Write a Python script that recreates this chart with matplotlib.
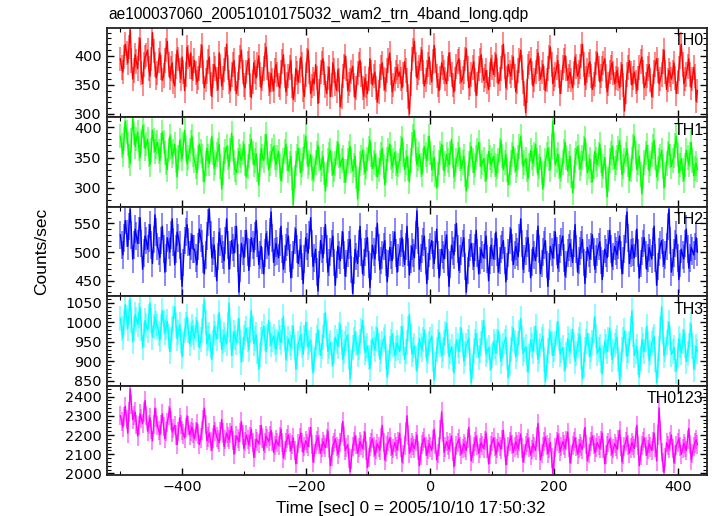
import numpy as np
import matplotlib
matplotlib.use("Agg")
import matplotlib.pyplot as plt
from matplotlib.ticker import MultipleLocator

plt.rcParams['font.family'] = ['Liberation Sans', 'DejaVu Sans']

title = "ae100037060_20051010175032_wam2_trn_4band_long.qdp"
xlabel = "Time [sec] 0 = 2005/10/10 17:50:32"
ylabel = "Counts/sec"
band_names = ["TH0", "TH1", "TH2", "TH3", "TH0123"]
t_first, t_last = -500.0, 431.0

th0 = [395, 380, 372, 398, 420, 405, 388, 415, 445, 392, 360, 375, 402, 390, 378, 412, 430, 370, 352, 385, 398, 402, 410, 378, 365, 395, 440, 408, 385, 362,
       370, 392, 405, 380, 358, 366, 392, 410, 425, 385, 362, 378, 388, 355, 348, 382, 410, 395, 375, 360, 398, 372, 340, 368, 415, 398, 382, 405, 360, 378,
       392, 370, 355, 362, 378, 400, 418, 372, 345, 358, 372, 390, 398, 352, 330, 365, 385, 378, 360, 342, 405, 382, 348, 362, 376, 395, 420, 380, 355, 340, 368, 385, 392, 360, 335, 352, 380, 398, 410, 372, 350, 345, 372, 388, 395, 350, 328, 355, 388, 372, 362, 385, 400, 368, 345, 360, 378, 402, 415, 380, 352, 338, 370, 358, 340, 375,
       385, 368, 350, 345, 372, 390, 402, 365, 338, 352, 365, 380, 392, 348, 325, 342, 378, 370, 355, 375, 398, 385, 342, 330, 368, 392, 410, 372, 335, 348, 360, 352, 385, 362, 318, 340, 372, 388, 395, 370, 348, 335, 362, 380, 330, 350, 388, 375, 352, 340, 376, 358, 312, 330, 365, 382, 400, 378, 340, 352, 358, 372, 382, 350, 328, 345, 370, 385, 392, 368, 345, 330, 362, 348, 335, 360, 395, 372, 350, 365, 372, 345, 320, 338, 365, 380, 388, 360, 342, 358, 375, 392, 405, 370, 338, 350, 360, 372, 380, 365,
       372, 360, 345, 368, 390, 375, 358, 330, 300, 352, 395, 410, 425, 385, 362, 370, 380, 395, 410, 372, 348, 358, 372, 385, 398, 370, 355, 390, 418, 392, 365, 350, 340, 362, 388, 380, 372, 360, 352, 378, 405, 385, 368, 350, 338, 360, 382, 390, 395, 372, 355, 362, 372, 395, 412, 378, 345, 352, 368, 380, 390, 358, 332, 352, 378, 392, 402, 375, 358, 365, 375, 355, 342, 368, 395, 380,
       368, 385, 402, 375, 352, 360, 378, 398, 420, 382, 345, 362, 385, 372, 365, 380, 398, 365, 338, 355, 375, 392, 410, 380, 355, 335, 302, 340, 382, 388, 395, 370, 348, 358, 372, 390, 405, 378, 360, 372, 385, 362, 340, 358, 378, 398, 415, 385, 352, 360, 368, 380, 392, 365, 335, 355, 380, 392, 400, 378, 358, 365, 372, 358, 345, 370, 398, 382, 365, 372, 382, 400, 420, 385, 350, 362, 375, 385, 390, 365, 342, 352, 368, 388, 405, 378, 355, 365, 378, 388, 395, 365, 338, 352, 372, 380, 388, 370, 352, 362,
       375, 360, 345, 368, 385, 350, 305, 338, 368, 380, 392, 370, 350, 362, 372, 355, 340, 362, 380, 390, 398, 372, 345, 352, 365, 378, 385, 358, 330, 348, 372, 385, 395, 375, 352, 360, 368, 390, 410, 372, 342, 358, 375, 368, 360, 372, 388, 362, 335, 355, 378, 398, 420, 385, 352, 360, 368, 382, 395, 368, 345, 360, 380, 365, 322, 340]

th1 = [385, 370, 355, 380, 410, 392, 372, 352, 340, 378, 415, 390, 368, 380, 392, 365, 350, 375, 402, 385, 365, 372, 380, 355, 338, 362, 395, 378, 360, 368,
       375, 360, 345, 370, 392, 375, 358, 342, 330, 362, 385, 368, 352, 360, 372, 345, 318, 350, 378, 362, 348, 372, 395, 365, 340, 350, 362, 375, 385, 355,
       345, 335, 325, 350, 372, 360, 352, 330, 310, 340, 365, 352, 340, 362, 385, 358, 332, 342, 355, 362, 372, 335, 298, 325, 348, 360, 368, 350, 335, 362, 390, 365, 342, 330, 325, 345, 360, 352, 345, 358, 372, 340, 318, 335, 352, 368, 380, 358, 338, 345, 356, 330, 305, 338, 365, 352, 345, 368, 388, 358, 330, 340, 352, 362, 368, 350,
       338, 350, 360, 335, 312, 330, 345, 360, 372, 348, 328, 340, 352, 315, 272, 318, 340, 352, 365, 345, 325, 338, 348, 368, 385, 358, 335, 342, 355, 332, 315, 330, 342, 358, 370, 348, 330, 340, 352, 325, 295, 322, 345, 355, 362, 340, 322, 330, 340, 358, 375, 352, 335, 345, 350, 328, 310, 328, 345, 358, 368, 345, 328, 338, 352, 318, 282, 315, 340, 350, 362, 342, 325, 335, 348, 365, 378, 355, 332, 342, 355, 338, 318, 330, 342, 355, 365, 335, 305, 328, 348, 362, 372, 350, 335, 345, 358, 340, 325, 338,
       345, 365, 382, 355, 330, 342, 352, 332, 310, 345, 372, 385, 395, 362, 338, 348, 355, 338, 322, 345, 368, 355, 345, 365, 385, 358, 330, 340, 350, 322, 300, 322, 342, 358, 372, 350, 328, 340, 355, 345, 338, 358, 380, 352, 318, 330, 345, 355, 365, 348, 332, 342, 352, 322, 295, 318, 340, 355, 368, 345, 325, 338, 350, 362, 375, 355, 335, 342, 348, 330, 312, 335, 360, 350, 338, 345,
       352, 338, 322, 335, 345, 362, 378, 352, 330, 342, 355, 330, 305, 325, 342, 355, 368, 345, 328, 338, 350, 368, 385, 358, 335, 342, 348, 330, 315, 338, 362, 350, 340, 355, 372, 345, 322, 335, 350, 325, 298, 322, 345, 355, 365, 348, 330, 368, 410, 372, 338, 345, 355, 335, 318, 330, 342, 360, 375, 350, 328, 340, 352, 320, 292, 318, 345, 358, 368, 350, 332, 340, 350, 365, 382, 355, 325, 335, 348, 328, 310, 335, 360, 348, 338, 355, 372, 345, 320, 335, 350, 318, 285, 315, 345, 358, 368, 350, 332, 342,
       350, 365, 378, 350, 322, 335, 345, 355, 365, 338, 312, 330, 348, 368, 385, 358, 330, 342, 352, 322, 290, 318, 342, 358, 370, 350, 328, 340, 355, 368, 378, 350, 318, 332, 345, 352, 362, 335, 300, 322, 340, 358, 372, 352, 335, 345, 352, 370, 385, 355, 325, 338, 348, 330, 312, 338, 362, 350, 338, 355, 375, 345, 320, 332, 340, 330]

th2 = [530, 512, 495, 525, 555, 532, 510, 545, 575, 530, 488, 512, 540, 528, 515, 538, 560, 515, 470, 498, 528, 520, 505, 525, 548, 512, 480, 522, 565, 535,
       510, 502, 490, 520, 545, 505, 465, 490, 525, 512, 500, 530, 558, 518, 478, 505, 535, 525, 512, 475, 440, 482, 520, 535, 548, 518, 495, 510, 530, 505,
       505, 490, 478, 510, 540, 525, 515, 488, 462, 495, 528, 552, 575, 530, 490, 502, 512, 480, 450, 492, 535, 518, 505, 495, 485, 520, 558, 512, 470, 495, 520, 508, 498, 522, 545, 490, 430, 472, 515, 502, 490, 515, 538, 500, 468, 498, 525, 512, 500, 528, 555, 515, 478, 495, 510, 485, 462, 498, 532, 512, 495, 535, 570, 525, 482, 500,
       515, 502, 490, 518, 545, 505, 470, 488, 508, 518, 528, 490, 455, 478, 495, 520, 540, 505, 480, 498, 512, 475, 445, 488, 525, 510, 498, 530, 560, 515, 475, 490, 505, 465, 432, 478, 520, 505, 490, 520, 548, 505, 465, 482, 500, 515, 528, 482, 442, 478, 510, 495, 485, 512, 535, 495, 458, 480, 498, 512, 522, 470, 428, 468, 505, 492, 480, 515, 545, 500, 462, 482, 500, 515, 525, 478, 438, 475, 512, 500, 488, 520, 550, 508, 470, 485, 495, 510, 520, 482, 448, 480, 508, 495, 485, 512, 535, 498, 465, 490,
       500, 515, 525, 498, 478, 510, 545, 500, 460, 488, 510, 498, 490, 530, 572, 520, 470, 490, 505, 518, 528, 485, 445, 475, 498, 510, 520, 495, 480, 512, 540, 495, 455, 482, 505, 495, 488, 512, 530, 482, 440, 478, 512, 502, 495, 525, 550, 505, 468, 488, 502, 515, 525, 475, 430, 468, 498, 508, 515, 492, 475, 508, 538, 498, 462, 485, 505, 495, 490, 512, 528, 488, 450, 485, 512, 500,
       488, 510, 535, 500, 465, 485, 505, 512, 520, 485, 448, 475, 498, 520, 540, 508, 478, 495, 510, 500, 492, 525, 558, 515, 470, 488, 502, 515, 525, 490, 455, 482, 508, 495, 485, 515, 545, 505, 462, 480, 500, 512, 520, 478, 440, 475, 510, 500, 490, 512, 535, 502, 472, 490, 505, 518, 528, 490, 458, 478, 498, 508, 515, 498, 482, 515, 548, 505, 465, 485, 502, 512, 522, 482, 445, 478, 508, 498, 488, 510, 530, 500, 470, 488, 500, 510, 518, 485, 452, 480, 505, 498, 490, 515, 538, 505, 475, 492, 510, 502,
       495, 512, 528, 495, 462, 485, 505, 540, 570, 525, 480, 498, 512, 500, 490, 515, 540, 498, 455, 480, 502, 515, 525, 495, 470, 490, 508, 498, 488, 518, 545, 490, 442, 475, 500, 512, 520, 498, 478, 495, 510, 545, 575, 520, 465, 482, 498, 515, 530, 490, 452, 480, 505, 495, 488, 515, 540, 505, 472, 490, 508, 502, 495, 510, 525, 500]

th3 = [1010, 985, 960, 1000, 1045, 1012, 985, 1025, 1060, 1005, 950, 985, 1020, 1008, 995, 1018, 1038, 985, 935, 968, 1005, 992, 980, 1015, 1050, 1005, 962, 990, 1015, 998,
       990, 972, 955, 990, 1030, 1000, 975, 988, 1002, 965, 925, 955, 985, 1010, 1040, 995, 958, 975, 995, 952, 912, 945, 978, 995, 1015, 980, 945, 968, 990, 975,
       960, 982, 1005, 968, 935, 955, 978, 1015, 1058, 1000, 945, 958, 970, 938, 905, 948, 990, 972, 958, 990, 1025, 978, 930, 950, 968, 955, 945, 995, 1050, 980, 915, 945, 975, 960, 948, 978, 1010, 952, 898, 930, 960, 972, 985, 955, 930, 980, 1030, 985, 945, 958, 968, 925, 880, 918, 955, 972, 990, 958, 925, 965, 1005, 970, 942, 955, 965, 948,
       930, 952, 975, 960, 948, 980, 1015, 958, 905, 932, 958, 945, 935, 962, 990, 935, 880, 912, 945, 958, 968, 940, 918, 960, 1000, 968, 935, 948, 955, 910, 870, 905, 942, 962, 980, 948, 915, 938, 960, 992, 1025, 970, 925, 938, 948, 918, 890, 928, 962, 950, 938, 968, 995, 948, 905, 925, 945, 958, 968, 910, 855, 898, 935, 955, 975, 945, 918, 935, 950, 978, 1005, 962, 922, 932, 940, 910, 882, 922, 958, 945, 930, 958, 985, 942, 905, 925, 945, 955, 965, 912, 860, 898, 932, 952, 970, 942, 915, 932, 948, 935,
       925, 958, 990, 945, 905, 925, 948, 985, 1020, 965, 918, 930, 940, 908, 875, 915, 958, 942, 930, 955, 980, 940, 902, 925, 945, 955, 965, 905, 852, 892, 930, 952, 975, 942, 915, 930, 948, 972, 998, 952, 912, 925, 938, 905, 870, 912, 955, 940, 925, 955, 985, 942, 900, 920, 942, 950, 960, 902, 845, 888, 928, 950, 972, 940, 910, 928, 945, 975, 1005, 958, 918, 928, 935, 908, 880, 915,
       952, 938, 922, 950, 978, 938, 900, 920, 940, 952, 962, 910, 858, 895, 930, 958, 985, 948, 912, 930, 945, 975, 1010, 962, 920, 930, 938, 905, 872, 912, 955, 940, 925, 958, 990, 948, 905, 925, 942, 955, 965, 905, 848, 888, 928, 952, 975, 945, 915, 930, 945, 972, 1002, 958, 918, 928, 935, 905, 878, 918, 958, 942, 925, 952, 982, 940, 900, 920, 940, 955, 968, 912, 855, 892, 930, 950, 972, 942, 912, 930, 948, 980, 1015, 965, 920, 930, 938, 902, 868, 910, 952, 938, 925, 955, 985, 945, 905, 925, 942, 952,
       962, 905, 850, 892, 930, 955, 978, 945, 912, 928, 945, 985, 1030, 968, 915, 925, 938, 898, 860, 908, 955, 940, 925, 955, 990, 945, 902, 922, 945, 955, 965, 905, 845, 890, 932, 985, 1040, 975, 915, 930, 948, 972, 1000, 958, 918, 925, 935, 905, 875, 915, 958, 940, 922, 950, 980, 940, 900, 920, 942, 968, 995, 938, 880, 910, 938, 925]

th0123 = [2300, 2270, 2240, 2295, 2350, 2280, 2210, 2320, 2440, 2360, 2280, 2300, 2320, 2255, 2195, 2250, 2310, 2285, 2260, 2320, 2380, 2300, 2220, 2255, 2290, 2230, 2170, 2255, 2340, 2290,
          2250, 2225, 2200, 2255, 2310, 2245, 2180, 2220, 2265, 2300, 2340, 2275, 2215, 2232, 2250, 2200, 2150, 2220, 2290, 2255, 2225, 2205, 2185, 2240, 2300, 2250, 2200, 2220, 2240, 2210,
          2180, 2220, 2260, 2205, 2150, 2185, 2225, 2280, 2340, 2255, 2170, 2190, 2210, 2165, 2120, 2185, 2250, 2220, 2190, 2175, 2160, 2220, 2280, 2210, 2140, 2175, 2210, 2190, 2175, 2210, 2245, 2170, 2100, 2150, 2195, 2180, 2165, 2215, 2270, 2200, 2130, 2165, 2200, 2175, 2150, 2190, 2230, 2160, 2085, 2130, 2180, 2168, 2155, 2200, 2250, 2185, 2120, 2158, 2195, 2180, 2165, 2195, 2225, 2168, 2110, 2145,
          2175, 2160, 2145, 2190, 2230, 2160, 2080, 2120, 2160, 2180, 2200, 2160, 2120, 2150, 2185, 2120, 2050, 2100, 2155, 2185, 2210, 2160, 2110, 2140, 2170, 2155, 2140, 2190, 2240, 2150, 2060, 2105, 2150, 2170, 2190, 2150, 2105, 2135, 2165, 2150, 2135, 2180, 2220, 2130, 2040, 2090, 2145, 2160, 2180, 2140, 2100, 2130, 2160, 2215, 2270, 2195, 2120, 2135, 2150, 2080, 2010, 2075, 2140, 2165, 2195, 2150, 2105, 2135, 2165, 2148, 2130, 2170, 2215, 2120, 2030, 2085, 2140, 2160, 2180, 2138, 2095, 2125, 2155, 2138, 2120, 2185, 2250, 2160, 2070, 2108, 2145, 2165, 2185, 2142, 2100, 2130, 2160, 2142, 2125, 2165,
          2210, 2135, 2060, 2100, 2145, 2220, 2300, 2200, 2105, 2132, 2160, 2145, 2130, 2165, 2200, 2120, 2040, 2095, 2150, 2168, 2185, 2140, 2095, 2125, 2155, 2138, 2120, 2175, 2230, 2150, 2070, 2105, 2140, 2230, 2320, 2215, 2110, 2138, 2165, 2145, 2125, 2160, 2195, 2115, 2035, 2090, 2145, 2162, 2180, 2140, 2100, 2128, 2155, 2138, 2120, 2180, 2240, 2150, 2065, 2102, 2140, 2165, 2190, 2148, 2105, 2132, 2160, 2145, 2130, 2170, 2210, 2130, 2050, 2098, 2145, 2165,
          2185, 2142, 2100, 2130, 2160, 2142, 2125, 2175, 2225, 2135, 2045, 2092, 2140, 2168, 2195, 2152, 2110, 2138, 2165, 2148, 2130, 2168, 2205, 2132, 2060, 2102, 2145, 2162, 2180, 2138, 2095, 2125, 2155, 2138, 2120, 2190, 2260, 2165, 2070, 2105, 2140, 2165, 2190, 2148, 2105, 2132, 2160, 2080, 2000, 2068, 2135, 2168, 2200, 2158, 2115, 2140, 2165, 2148, 2130, 2172, 2215, 2135, 2055, 2100, 2145, 2165, 2185, 2142, 2100, 2128, 2155, 2140, 2125, 2182, 2240, 2152, 2065, 2102, 2140, 2168, 2195, 2152, 2110, 2135, 2160, 2145, 2130, 2170, 2210, 2130, 2050, 2098, 2145, 2162, 2180, 2140, 2100, 2128, 2155, 2140,
          2125, 2175, 2225, 2142, 2060, 2100, 2140, 2165, 2190, 2148, 2105, 2132, 2160, 2145, 2130, 2190, 2250, 2145, 2040, 2092, 2145, 2165, 2185, 2140, 2095, 2125, 2155, 2138, 2120, 2165, 2210, 2138, 2065, 2200, 2340, 2225, 2110, 2058, 2005, 2082, 2160, 2145, 2130, 2165, 2200, 2128, 2055, 2100, 2145, 2162, 2180, 2140, 2100, 2128, 2155, 2138, 2120, 2178, 2235, 2152, 2070, 2105, 2140, 2158, 2175, 2150]

errors = [21, 20, 24, 32, 50]
series = [th0, th1, th2, th3, th0123]
colors = ["#ff0000", "#00ff00", "#0000ff", "#00ffff", "#ff00ff"]
ylims = [(294, 448), (269, 416), (423, 579), (838, 1067), (1992, 2457)]
ymajor = [50, 50, 50, 50, 100]
yminor = [10, 10, 10, 10, 20]
xlim = (-522, 446)

fig = plt.figure(figsize=(7.17, 5.16), dpi=100)
left, right = 106.7 / 717, 706.7 / 717
top, bottom = 1 - 28 / 516, 1 - 475 / 516
h = (top - bottom) / 5
for i in range(5):
    ax = fig.add_axes([left, top - (i + 1) * h, right - left, h])
    y = np.array(series[i], dtype=float)
    t = np.linspace(t_first, t_last, len(y))
    ax.vlines(t, y - errors[i], y + errors[i], color=colors[i], alpha=0.5, lw=1.3)
    ax.plot(t, y, color=colors[i], lw=1.0)
    ax.set_xlim(*xlim)
    ax.set_ylim(*ylims[i])
    ax.xaxis.set_major_locator(MultipleLocator(200))
    ax.xaxis.set_minor_locator(MultipleLocator(100))
    ax.yaxis.set_major_locator(MultipleLocator(ymajor[i]))
    ax.yaxis.set_minor_locator(MultipleLocator(yminor[i]))
    ax.tick_params(which='both', direction='in', top=True, right=True, colors='black')
    ax.tick_params(which='major', length=5, width=1)
    ax.tick_params(which='minor', length=3, width=0.8)
    for lab in ax.get_xticklabels() + ax.get_yticklabels():
        lab.set_fontfamily('DejaVu Sans')
        lab.set_fontsize(10.4)
    for s in ax.spines.values():
        s.set_linewidth(1.3)
        s.set_color('#222222')
    if i < 4:
        ax.tick_params(labelbottom=False)
    ax.text(0.995, 0.94, band_names[i], transform=ax.transAxes, ha='right', va='top', fontsize=11.5)

fig.text(108 / 717, 1 - 14 / 516, title, ha='left', va='center', fontsize=11.2)
fig.text((left + right) / 2 + 0.006, 1 - 508 / 516, xlabel, ha='center', va='center', fontsize=12.3)
fig.text(42 / 717, (top + bottom) / 2, ylabel, ha='center', va='center', rotation=90, fontsize=12.5)

fig.savefig("out.png", dpi=100)
